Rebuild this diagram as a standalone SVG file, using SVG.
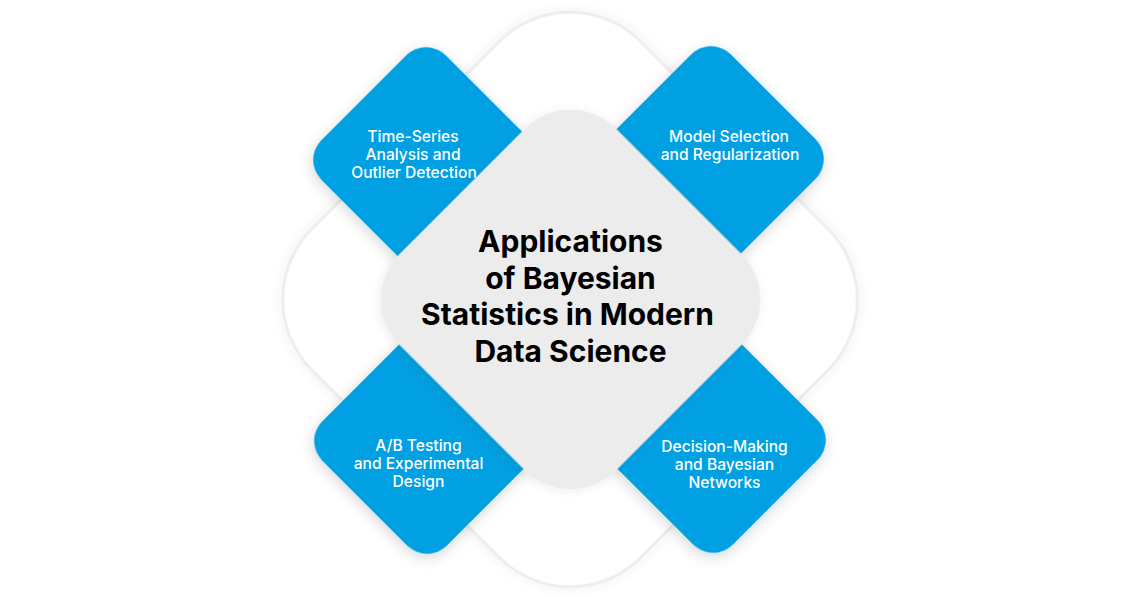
<svg xmlns="http://www.w3.org/2000/svg" width="1142" height="597" viewBox="0 0 1142 597">
  <defs>
    <filter id="bgShadow" x="-20%" y="-20%" width="140%" height="140%">
      <feDropShadow dx="0" dy="0" stdDeviation="6" flood-color="#000" flood-opacity="0.06"/>
    </filter>
    <filter id="cardShadow" x="-30%" y="-30%" width="160%" height="160%">
      <feDropShadow dx="2" dy="3" stdDeviation="7" flood-color="#000" flood-opacity="0.16"/>
    </filter>
    <filter id="hubShadow" x="-20%" y="-20%" width="140%" height="140%">
      <feDropShadow dx="0" dy="2" stdDeviation="5" flood-color="#000" flood-opacity="0.08"/>
    </filter>
  </defs>
  <style>
    .bg { fill: #ffffff; stroke: #ededed; stroke-width: 3; }
    .card { fill: #03a0e3; }
    .hub { fill: #ececec; }
    .lbl { font-family: Inter, "Noto Sans", "Liberation Sans", sans-serif; font-size: 15.6px; font-weight: 500; fill: #ffffff; text-anchor: middle; }
    .title { font-family: Inter, "Liberation Sans", sans-serif; font-size: 30px; font-weight: 700; fill: #000000; text-anchor: middle; letter-spacing: 0px; }
  </style>
  <rect width="1142" height="597" fill="#ffffff"/>

  <g id="background">
    <rect class="bg" filter="url(#bgShadow)" x="337.5" y="67" width="465" height="465" rx="100" transform="rotate(45 570 299.5)"/>
  </g>

  <g id="connectors"/>

  <g id="node-time-series">
    <rect class="card" filter="url(#cardShadow)" x="338" y="72" width="176" height="176" rx="28" transform="rotate(45 426 160)"/>
    <text class="lbl" x="413" y="141.5">Time-Series</text>
    <text class="lbl" x="413" y="159.5">Analysis and</text>
    <text class="lbl" x="414" y="177.5">Outlier Detection</text>
  </g>

  <g id="node-model-selection">
    <rect class="card" filter="url(#cardShadow)" x="623" y="71" width="176" height="176" rx="28" transform="rotate(45 711 159)"/>
    <text class="lbl" x="729" y="141.5">Model Selection</text>
    <text class="lbl" x="730" y="159.5">and Regularization</text>
  </g>

  <g id="node-ab-testing">
    <rect class="card" filter="url(#cardShadow)" x="339" y="353" width="176" height="176" rx="28" transform="rotate(45 427 441)"/>
    <text class="lbl" x="418.5" y="451">A/B Testing</text>
    <text class="lbl" x="418.5" y="469">and Experimental</text>
    <text class="lbl" x="418.5" y="487">Design</text>
  </g>

  <g id="node-decision-making">
    <rect class="card" filter="url(#cardShadow)" x="625" y="352" width="176" height="176" rx="28" transform="rotate(45 713 440)"/>
    <text class="lbl" x="724.5" y="452">Decision-Making</text>
    <text class="lbl" x="724.5" y="470">and Bayesian</text>
    <text class="lbl" x="724.5" y="488">Networks</text>
  </g>

  <g id="node-center">
    <rect class="hub" filter="url(#hubShadow)" x="417.5" y="146.5" width="306" height="306" rx="64" transform="rotate(45 570.5 299.5)"/>
    <text class="title" x="570.5" y="252">Applications</text>
    <text class="title" x="570.5" y="288.5">of Bayesian</text>
    <text class="title" x="567.5" y="325">Statistics in Modern</text>
    <text class="title" x="570.5" y="361.5">Data Science</text>
  </g>
</svg>
